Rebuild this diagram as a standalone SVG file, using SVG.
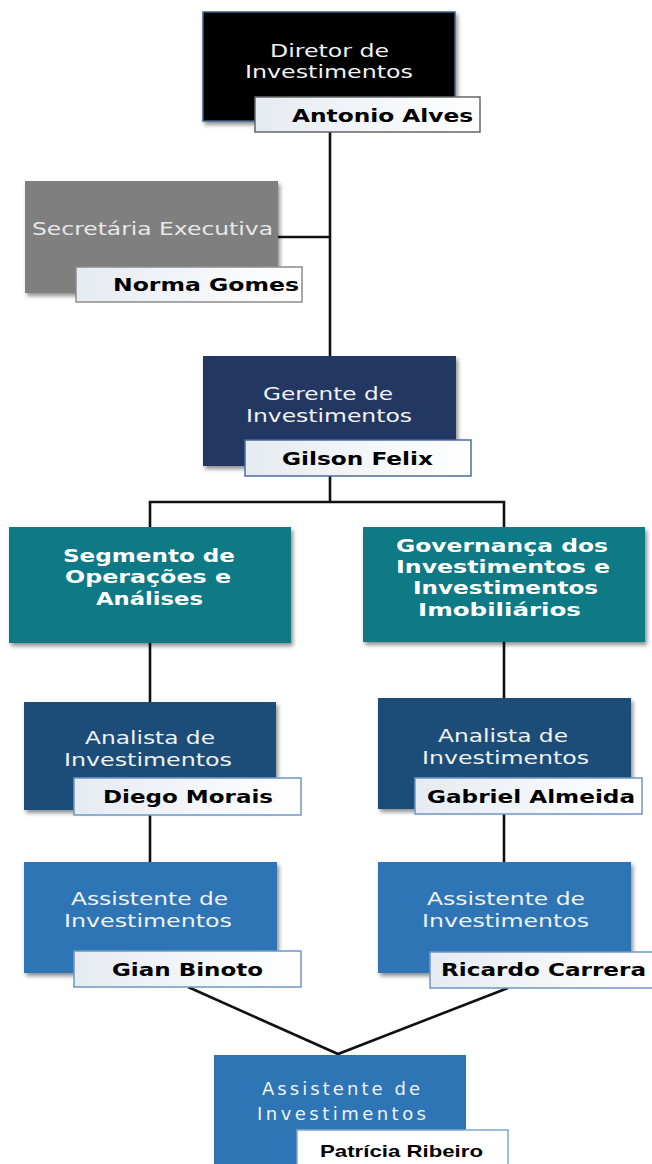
<svg xmlns="http://www.w3.org/2000/svg" width="652" height="1164" viewBox="0 0 652 1164">
<defs>
<filter id="sh" x="-10%" y="-10%" width="125%" height="130%">
<feDropShadow dx="2" dy="3" stdDeviation="2" flood-color="#000" flood-opacity="0.45"/>
</filter>
<linearGradient id="lg" x1="0" y1="0" x2="1" y2="0">
<stop offset="0" stop-color="#e6ebf1"/>
<stop offset="1" stop-color="#ffffff"/>
</linearGradient>
</defs>
<style>
.box{filter:url(#sh)}
.t{font-family:"DejaVu Sans",Verdana,sans-serif;font-size:18px;fill:#f2f2f2;text-anchor:middle}
.tb{font-family:"DejaVu Sans",Verdana,sans-serif;font-size:18px;font-weight:bold;fill:#ffffff;text-anchor:middle}
.n{font-family:"DejaVu Sans",Verdana,sans-serif;font-size:18px;font-weight:bold;fill:#000}
.lbl{fill:url(#lg);stroke:#6f97c8;stroke-width:1.5}
.con{fill:none;stroke:#111;stroke-width:2.6}
</style>
<rect width="652" height="1164" fill="#ffffff"/>
<g id="connectors">
<path class="con" d="M330 120 V356"/>
<path class="con" d="M278 237 H330"/>
<path class="con" d="M330 466 V502 M150 527 V502 H504 V527"/>
<path class="con" d="M150 643 V702 M150 815 V862"/>
<path class="con" d="M504 642 V698 M504 814 V862"/>
<path class="con" d="M188 987 L338 1054 L508 988"/>
</g>
<g id="diretor">
<rect class="box" x="203" y="12" width="252" height="109" fill="#000" stroke="#3c6290" stroke-width="1.5"/>
<text class="t" x="329.5" y="57" textLength="119" lengthAdjust="spacingAndGlyphs">Diretor de</text>
<text class="t" x="329" y="78" textLength="168" lengthAdjust="spacingAndGlyphs">Investimentos</text>
<rect x="255" y="97" width="225" height="35" fill="url(#lg)" stroke="#666" stroke-width="1.5"/>
<text class="n" x="292" y="122" textLength="181" lengthAdjust="spacingAndGlyphs">Antonio Alves</text>
</g>
<g id="secretaria">
<rect class="box" x="25" y="181" width="253" height="112" fill="#7f7f7f"/>
<text class="t" x="152.5" y="235" textLength="241" lengthAdjust="spacingAndGlyphs" fill="#e6e6e6" style="fill:#e8e8e8">Secretária Executiva</text>
<rect x="76" y="267" width="226" height="35" fill="url(#lg)" stroke="#8c8c8c" stroke-width="1.5"/>
<text class="n" x="113" y="291" textLength="186" lengthAdjust="spacingAndGlyphs">Norma Gomes</text>
</g>
<g id="gerente">
<rect class="box" x="203" y="356" width="253" height="110" fill="#203864"/>
<text class="t" x="328" y="400" textLength="130" lengthAdjust="spacingAndGlyphs">Gerente de</text>
<text class="t" x="329" y="422" textLength="166" lengthAdjust="spacingAndGlyphs">Investimentos</text>
<rect x="245" y="440" width="226" height="36" fill="url(#lg)" stroke="#4a6c9e" stroke-width="1.5"/>
<text class="n" x="282" y="465" textLength="151" lengthAdjust="spacingAndGlyphs">Gilson Felix</text>
</g>
<g id="segmento">
<rect class="box" x="9" y="527" width="282" height="116" fill="#0b7a85"/>
<text class="tb" x="149" y="562" textLength="172" lengthAdjust="spacingAndGlyphs">Segmento de</text>
<text class="tb" x="148" y="583" textLength="166" lengthAdjust="spacingAndGlyphs">Operações e</text>
<text class="tb" x="149.5" y="605" textLength="107" lengthAdjust="spacingAndGlyphs">Análises</text>
</g>
<g id="governanca">
<rect class="box" x="363" y="527" width="282" height="115" fill="#0b7a85"/>
<text class="tb" x="502" y="552" textLength="212" lengthAdjust="spacingAndGlyphs">Governança dos</text>
<text class="tb" x="503" y="573" textLength="214" lengthAdjust="spacingAndGlyphs">Investimentos e</text>
<text class="tb" x="505.5" y="594" textLength="185" lengthAdjust="spacingAndGlyphs">Investimentos</text>
<text class="tb" x="499.5" y="616" textLength="163" lengthAdjust="spacingAndGlyphs">Imobiliários</text>
</g>
<g id="analista-esq">
<rect class="box" x="24" y="702" width="252" height="108" fill="#1f4e79"/>
<text class="t" x="150" y="744" textLength="130" lengthAdjust="spacingAndGlyphs">Analista de</text>
<text class="t" x="148" y="766" textLength="168" lengthAdjust="spacingAndGlyphs">Investimentos</text>
<rect class="lbl" x="74" y="778" width="227" height="37"/>
<text class="n" x="103" y="803" textLength="170" lengthAdjust="spacingAndGlyphs">Diego Morais</text>
</g>
<g id="assistente-esq">
<rect class="box" x="24" y="862" width="253" height="111" fill="#2e75b6"/>
<text class="t" x="149.5" y="905" textLength="157" lengthAdjust="spacingAndGlyphs">Assistente de</text>
<text class="t" x="148" y="927" textLength="168" lengthAdjust="spacingAndGlyphs">Investimentos</text>
<rect class="lbl" x="74" y="951" width="227" height="36"/>
<text class="n" x="112" y="976" textLength="151" lengthAdjust="spacingAndGlyphs">Gian Binoto</text>
</g>
<g id="analista-dir">
<rect class="box" x="378" y="698" width="253" height="111" fill="#1f4e79"/>
<text class="t" x="503" y="742" textLength="130" lengthAdjust="spacingAndGlyphs">Analista de</text>
<text class="t" x="505.5" y="764" textLength="167" lengthAdjust="spacingAndGlyphs">Investimentos</text>
<rect class="lbl" x="415" y="778" width="227" height="36"/>
<text class="n" x="427" y="803" textLength="208" lengthAdjust="spacingAndGlyphs">Gabriel Almeida</text>
</g>
<g id="assistente-dir">
<rect class="box" x="378" y="862" width="253" height="111" fill="#2e75b6"/>
<text class="t" x="506" y="905" textLength="158" lengthAdjust="spacingAndGlyphs">Assistente de</text>
<text class="t" x="505.5" y="927" textLength="167" lengthAdjust="spacingAndGlyphs">Investimentos</text>
<rect class="lbl" x="430" y="952" width="224" height="36"/>
<text class="n" x="441" y="976" textLength="205" lengthAdjust="spacingAndGlyphs">Ricardo Carrera</text>
</g>
<g id="assistente-baixo">
<rect x="214" y="1055" width="252" height="115" fill="#2e75b6"/>
<text class="t" x="341" y="1095" textLength="158" lengthAdjust="spacing">Assistente de</text>
<text class="t" x="341.5" y="1120" textLength="169" lengthAdjust="spacing">Investimentos</text>
<rect x="297" y="1130" width="211" height="40" fill="#ffffff" stroke="#7fa6d4" stroke-width="1.5"/>
<text x="320" y="1157" textLength="163" lengthAdjust="spacingAndGlyphs" style="font-family:'Liberation Sans',Arial,sans-serif;font-size:17px;font-weight:bold;fill:#000">Patrícia Ribeiro</text>
</g>
</svg>
